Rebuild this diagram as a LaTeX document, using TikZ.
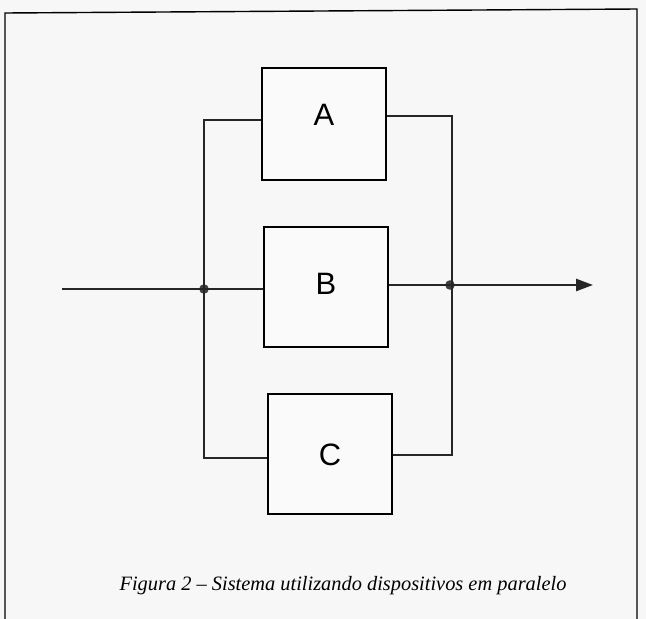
\documentclass[tikz,border=0pt]{standalone}
\usepackage{fontspec}
\setmainfont{Liberation Serif}
\newfontfamily\boxfont{Liberation Sans}
\usetikzlibrary{arrows.meta, positioning, calc}

\begin{document}
\begin{tikzpicture}[
    x=0.025cm, y=-0.025cm,
    device/.style={draw, line width=1.4pt, fill=white!96!gray, minimum width=3.1cm, minimum height=3cm},
    tag/.style={font=\boxfont\fontsize{22}{26}\selectfont},
    wire/.style={line width=1.4pt, black!85},
    arrow/.style={wire, -{Triangle[length=0.42cm, width=0.3cm]}},
    junction/.style={circle, fill=black!75, inner sep=0pt, minimum size=0.24cm}
]
% page and frame
\fill[white!94!gray] (0,0) rectangle (646,619);
\useasboundingbox (0,0) rectangle (646,619);
\draw[line width=1pt] (5,619) -- (5,13) -- (637,9) -- (637,619);

% devices
\node[device, minimum height=2.8cm] (A) at (324,124) {};
\node[device] (B) at (326,287) {};
\node[device] (C) at (330,454) {};
\node[tag] at ($(A)+(0,-9)$) {A};
\node[tag] at ($(B)+(0,-3)$) {B};
\node[tag] at ($(C)+(0,1)$) {C};

% bus corners
\coordinate (in) at (62,289);
\coordinate (out) at (593,285);
\node[junction] (jl) at (204,289) {};
\node[junction] (jr) at (450,285) {};
\coordinate (la) at (204,120);
\coordinate (lc) at (204,458);
\coordinate (ra) at (452,116);
\coordinate (rc) at (452,455);

\draw[wire] (A.west |- la) -- (la) -- (lc) -- (C.west |- lc);
\draw[wire] (A.east |- ra) -- (ra) -- (rc) -- (C.east |- rc);
\draw[wire] (in) -- (jl.center) -- (B.west |- jl);
\draw[arrow] (B.east |- jr) -- (jr.center) -- (out);

% caption
\node[font=\itshape\fontsize{14.5}{17}\selectfont] (cap) at (343,586) {Figura 2 -- Sistema utilizando dispositivos em paralelo};
\end{tikzpicture}
\end{document}
